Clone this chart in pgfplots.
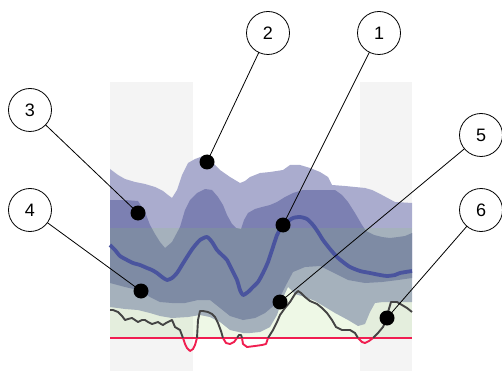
\documentclass[border=0pt]{standalone}
\usepackage{pgfplots}
\pgfplotsset{compat=1.18}
\usepackage{fontspec}
\setmainfont{Liberation Sans}
\definecolor{colbg}{RGB}{244,244,244}
\definecolor{outerband}{RGB}{170,172,206}
\definecolor{innerband}{RGB}{124,128,178}
\definecolor{greenov}{RGB}{142,208,90}
\definecolor{medline}{RGB}{74,84,158}
\definecolor{obsline}{RGB}{68,68,68}
\definecolor{thresh}{RGB}{240,30,80}
\begin{document}
\begin{tikzpicture}
\begin{axis}[
  width=502pt, height=371pt, scale only axis,
  xmin=0, xmax=502, ymin=0, ymax=371, y dir=reverse,
  hide axis, clip=false,
]
% grey columns
\addplot[fill=colbg, draw=none] coordinates {(110,82) (193,82) (193,371) (110,371)} -- cycle;
\addplot[fill=colbg, draw=none] coordinates {(360,82) (412,82) (412,371) (360,371)} -- cycle;
% outer band
\addplot[fill=outerband, draw=none] coordinates {
(110,169) (118,175) (125,179) (135,182) (145,184) (155,187) (163,191) (168,195) (172,198)
(177,190) (182,175) (188,163) (195,159) (203,156) (210,160) (220,170) (230,177) (240,183)
(245,181) (250,177) (260,173) (270,172) (283,170) (290,165) (300,165) (310,168) (320,172)
(328,177) (332,185) (345,186) (355,187) (365,188) (372,190) (382,195) (395,202) (412,203)
(412,302) (395,302) (383,302) (375,303) (370,312) (365,324) (358,326) (348,320) (335,313)
(325,307) (315,301) (305,297) (295,294) (288,287) (282,300) (277,315) (270,327) (260,332)
(250,333) (243,333) (230,330) (220,322) (210,317) (200,315) (188,317) (172,318) (160,316)
(150,313) (138,310) (125,309) (110,307)
} -- cycle;
% inner band
\addplot[fill=innerband, draw=none] coordinates {
(110,200) (125,200) (138,201) (145,212) (150,225) (155,234) (160,242) (165,248) (172,242)
(180,227) (185,210) (190,200) (197,193) (205,189) (212,190) (218,197) (223,205) (227,215)
(232,224) (236,228) (241,229) (244,220) (248,213) (255,209) (262,207) (270,205) (277,202)
(285,197) (293,193) (303,190) (315,190) (335,190) (342,195) (348,202) (355,213) (362,225)
(366,231) (374,235) (382,237) (390,238) (398,237) (405,236) (412,233)
(412,278) (398,280) (382,282) (365,283) (348,280) (332,272) (320,266) (305,267) (293,272)
(285,287) (277,303) (265,313) (255,318) (243,320) (230,316) (220,308) (210,300) (198,300)
(185,303) (172,303) (160,302) (150,297) (138,290) (125,287) (110,283)
} -- cycle;
% green overlay
\addplot[fill=greenov, fill opacity=0.15, draw=none] coordinates {(110,228) (412,228) (412,338) (110,338)} -- cycle;
% median
\addplot[medline, line width=3.8pt, line join=round, smooth, tension=0.4] coordinates {
(110,245) (115,250) (120,256) (127,260) (133,263) (140,265) (147,268) (152,270) (157,273)
(162,277) (167,280) (172,278) (177,273) (182,265) (187,257) (193,248) (200,240) (207,237)
(212,242) (217,250) (222,255) (227,260) (232,270) (237,280) (240,290) (243,295) (248,292)
(253,287) (258,282) (263,273) (268,262) (273,247) (277,235) (281,228) (287,222) (293,218)
(300,217) (307,219) (313,225) (318,232) (323,240) (330,249) (337,257) (343,262) (350,267)
(360,271) (370,273) (380,275) (387,276) (395,275) (400,273) (412,271)
};
% threshold line
\addplot[thresh, line width=1.3pt] coordinates {(110,338) (412,338)};
% observed: black parts
\addplot[obsline, line width=1.9pt, line join=round] coordinates {
(110,310) (113,310) (118,312) (122,316) (125,320) (128,319) (132,318) (135,320) (138,322)
(142,320) (145,320) (148,322) (152,324) (155,323) (158,322) (161,324) (163,325) (166,323)
(168,322) (172,320) (175,327) (180,330) (183,338)};
\addplot[obsline, line width=1.9pt, line join=round] coordinates {
(197,338) (198,320) (200,311) (203,311) (208,312) (212,314) (215,317) (218,323) (221,331) (223,338)};
\addplot[obsline, line width=1.9pt, line join=round] coordinates {
(237,338) (239,335) (241,335) (242,338)};
\addplot[obsline, line width=1.9pt, line join=round] coordinates {
(268,338) (273,330) (277,322) (280,315) (285,308) (290,302) (295,294) (298,291) (301,293)
(305,297) (310,301) (317,304) (322,308) (327,313) (332,320) (336,327) (342,330) (350,330)
(355,333) (358,338)};
\addplot[obsline, line width=1.9pt, line join=round] coordinates {
(373,338) (378,333) (383,327) (386,320) (388,312) (391,302) (397,302) (402,305) (407,308) (412,312)};
% observed: red parts
\addplot[thresh, line width=1.9pt, line join=round] coordinates {
(183,338) (185,344) (187,348) (190,351) (193,349) (195,345) (197,338)};
\addplot[thresh, line width=1.9pt, line join=round] coordinates {
(223,338) (226,343) (230,344) (234,342) (237,338)};
\addplot[thresh, line width=1.9pt, line join=round] coordinates {
(242,338) (243,344) (247,347) (255,346) (262,345) (266,344) (268,338)};
\addplot[thresh, line width=1.9pt, line join=round] coordinates {
(358,338) (362,342) (365,343) (369,341) (373,338)};
% callouts
\draw[black, line width=0.8pt] (axis cs:268,33) -- (axis cs:207,162);
\draw[black, line width=0.8pt] (axis cs:379,33) -- (axis cs:283,225);
\draw[black, line width=0.8pt] (axis cs:30,110) -- (axis cs:138,213);
\draw[black, line width=0.8pt] (axis cs:30,210) -- (axis cs:141,291);
\draw[black, line width=0.8pt] (axis cs:481,135) -- (axis cs:280,302);
\draw[black, line width=0.8pt] (axis cs:481,210) -- (axis cs:387,318);
\fill[black] (axis cs:207,162) circle[radius=7.5pt];
\fill[black] (axis cs:283,225) circle[radius=7.5pt];
\fill[black] (axis cs:138,213) circle[radius=7.5pt];
\fill[black] (axis cs:141,291) circle[radius=7.5pt];
\fill[black] (axis cs:280,302) circle[radius=7.5pt];
\fill[black] (axis cs:387,318) circle[radius=7.5pt];
\node[circle, draw=black, line width=0.8pt, fill=white, minimum size=43pt, inner sep=0pt, font=\fontsize{18}{20}\selectfont] at (axis cs:268,33) {2};
\node[circle, draw=black, line width=0.8pt, fill=white, minimum size=43pt, inner sep=0pt, font=\fontsize{18}{20}\selectfont] at (axis cs:379,33) {1};
\node[circle, draw=black, line width=0.8pt, fill=white, minimum size=43pt, inner sep=0pt, font=\fontsize{18}{20}\selectfont] at (axis cs:30,110) {3};
\node[circle, draw=black, line width=0.8pt, fill=white, minimum size=43pt, inner sep=0pt, font=\fontsize{18}{20}\selectfont] at (axis cs:30,210) {4};
\node[circle, draw=black, line width=0.8pt, fill=white, minimum size=43pt, inner sep=0pt, font=\fontsize{18}{20}\selectfont] at (axis cs:481,135) {5};
\node[circle, draw=black, line width=0.8pt, fill=white, minimum size=43pt, inner sep=0pt, font=\fontsize{18}{20}\selectfont] at (axis cs:481,210) {6};
\end{axis}
\pgfresetboundingbox
\path (0,0) rectangle (502pt,371pt);
\end{tikzpicture}
\end{document}
